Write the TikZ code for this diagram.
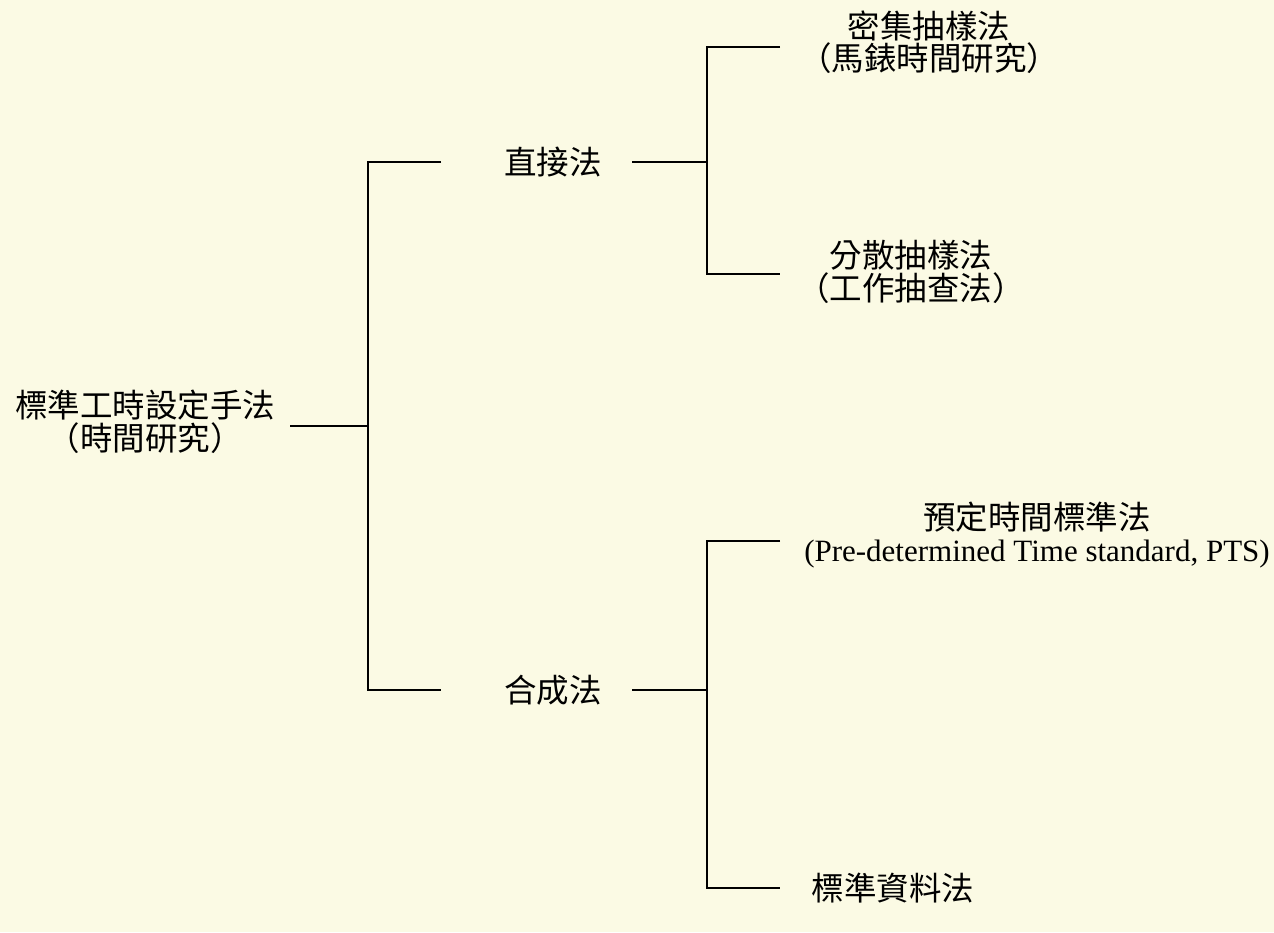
\documentclass[tikz,border=0pt]{standalone}
\usepackage{fontspec}
\setmainfont{Liberation Serif}
\newfontfamily\cjk{Noto Sans CJK TC}
\usetikzlibrary{positioning}
\definecolor{paper}{RGB}{251,250,228}
\tikzset{
  lbl/.style={inner sep=0pt, align=center, font=\cjk\fontsize{32.5}{32.5}\selectfont},
  conn/.style={line width=1.3pt, black}
}

\begin{document}
\begin{tikzpicture}[x=1pt,y=-1pt]
        \fill[paper] (0,0) rectangle (1274,932);
        \useasboundingbox (0,0) rectangle (1274,932);

        \node[lbl] (root) at (145,422) {標準工時設定手法\\（時間研究）};
        \node[lbl] (direct) at (553,162) {直接法};
        \node[lbl] (synth) at (553,690) {合成法};
        \node[lbl] (dense) at (929,42) {密集抽樣法\\（馬錶時間研究）};
        \node[lbl] (sparse) at (911,272) {分散抽樣法\\（工作抽查法）};
        \node[lbl] (pts) at (1037,535) {預定時間標準法\\{\rmfamily\fontsize{31}{32.5}\selectfont (Pre-determined Time standard, PTS)}};
        \node[lbl] (stdd) at (893,888) {標準資料法};

        %\draw[help lines] (0,0) grid (1274,932);
        \coordinate (a0) at (290,426);
        \coordinate (a1) at (368,426);
        \coordinate (a2) at (441,162);
        \coordinate (a3) at (441,690);
        \draw[conn] (a0) -- (a1);
        \draw[conn] (a2) -| (a1) |- (a3);

        \coordinate (b0) at (632,162);
        \coordinate (b1) at (707,162);
        \coordinate (b2) at (780,47);
        \coordinate (b3) at (780,274);
        \draw[conn] (b0) -- (b1);
        \draw[conn] (b2) -| (b1) |- (b3);

        \coordinate (c0) at (632,690);
        \coordinate (c1) at (707,690);
        \coordinate (c2) at (780,541);
        \coordinate (c3) at (780,888);
        \draw[conn] (c0) -- (c1);
        \draw[conn] (c2) -| (c1) |- (c3);
\end{tikzpicture}
\end{document}
